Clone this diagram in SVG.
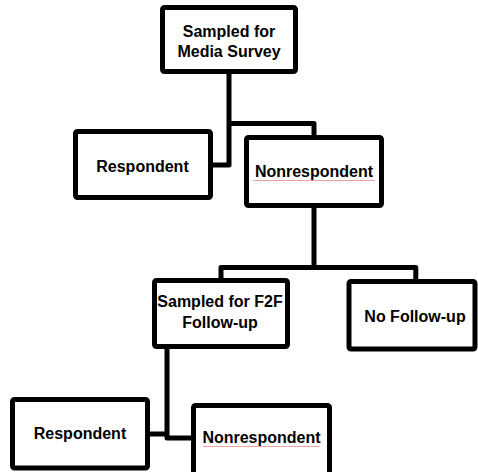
<svg xmlns="http://www.w3.org/2000/svg" width="478" height="472" viewBox="0 0 478 472">
  <style>
    .box { fill: #ffffff; stroke: #000000; stroke-width: 5; stroke-linejoin: round; }
    .conn { fill: none; stroke: #000000; stroke-width: 5; stroke-linejoin: round; stroke-linecap: butt; }
    .lbl { font-family: "Liberation Sans", Arial, sans-serif; font-weight: bold; font-size: 16px; fill: #000000; text-anchor: middle; }
    .spell { stroke: #f0a0a0; stroke-width: 1; fill: none; }
  </style>
  <rect width="478" height="472" fill="#ffffff"/>
  <g id="connectors">
    <path class="conn" d="M 211 165 H 229 V 72"/>
    <path class="conn" d="M 229 123.5 H 314 V 137"/>
    <path class="conn" d="M 314 206 V 267.5"/>
    <path class="conn" d="M 221 280 V 267.5 H 415.8 V 281"/>
    <path class="conn" d="M 148 434 H 167"/>
    <path class="conn" d="M 167 347 V 438 H 193"/>
  </g>
  <g id="media-survey">
    <rect class="box" x="162.5" y="7.5" width="133" height="64" rx="2"/>
    <text class="lbl" x="229" y="37">Sampled for</text>
    <text class="lbl" x="229" y="57">Media Survey</text>
  </g>
  <g id="respondent-1">
    <rect class="box" x="75.5" y="131.5" width="135" height="66" rx="2"/>
    <text class="lbl" x="142.5" y="172">Respondent</text>
  </g>
  <g id="nonrespondent-1">
    <rect class="box" x="246.5" y="137.5" width="135" height="68" rx="2"/>
    <text class="lbl" x="314" y="177">Nonrespondent</text>
    <line class="spell" x1="253" y1="180.5" x2="375" y2="180.5"/>
  </g>
  <g id="f2f-followup">
    <rect class="box" x="154.5" y="280.5" width="133" height="66" rx="2"/>
    <text class="lbl" x="220" y="307">Sampled for F2F</text>
    <text class="lbl" x="220" y="328">Follow-up</text>
  </g>
  <g id="no-followup">
    <rect class="box" x="349" y="281.5" width="126" height="67.5" rx="2"/>
    <text class="lbl" x="415" y="322">No Follow-up</text>
  </g>
  <g id="respondent-2">
    <rect class="box" x="12.5" y="399.5" width="135" height="68.5" rx="2"/>
    <text class="lbl" x="80" y="439">Respondent</text>
  </g>
  <g id="nonrespondent-2">
    <rect class="box" x="193.5" y="405.5" width="136" height="72" rx="2"/>
    <text class="lbl" x="261.5" y="443">Nonrespondent</text>
    <line class="spell" x1="203" y1="446.5" x2="320" y2="446.5"/>
  </g>
</svg>
